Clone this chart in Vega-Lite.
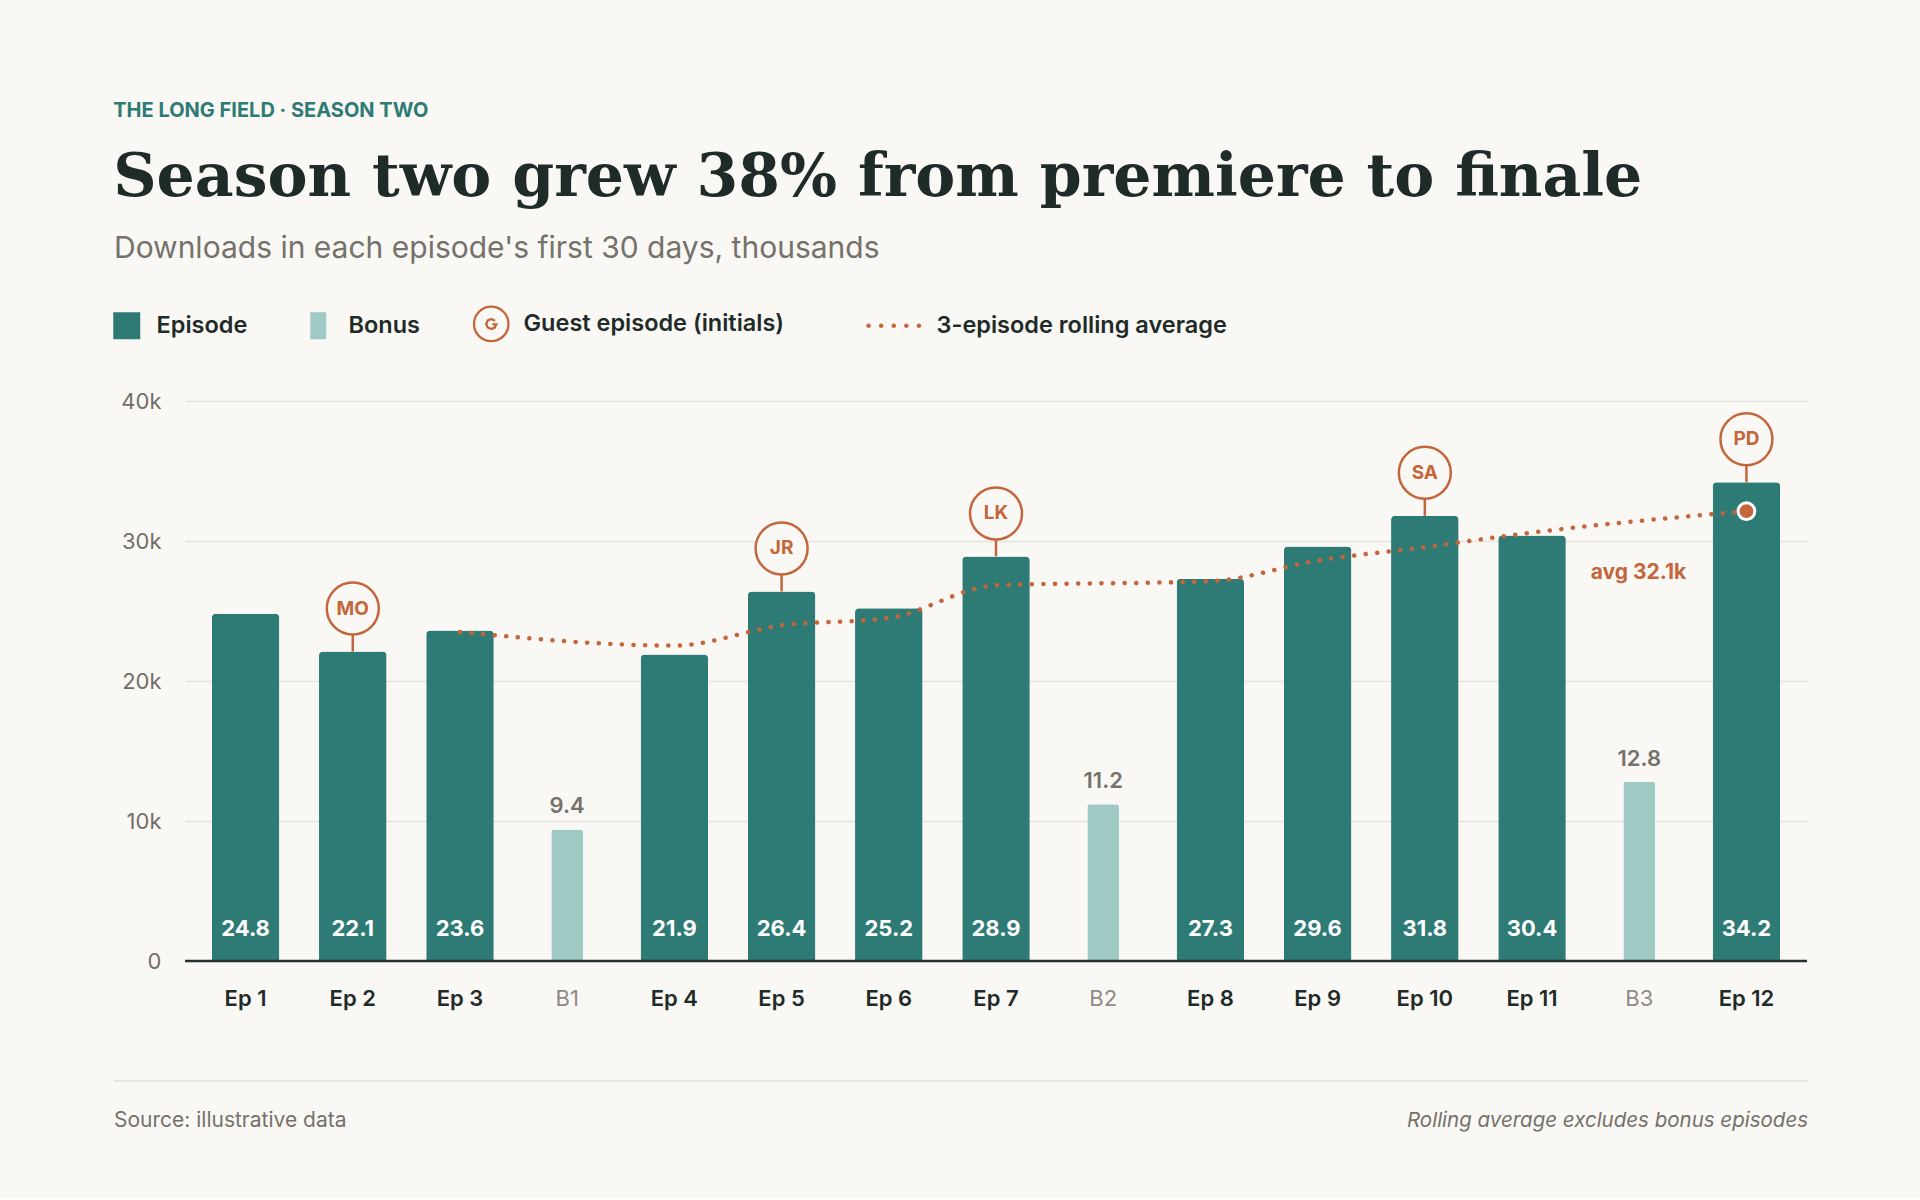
{
  "$schema": "https://vega.github.io/schema/vega-lite/v6.json",
  "background": "#faf8f4",
  "padding": {"left": 113, "top": 101, "right": 113, "bottom": 37},
  "config": {
    "view": {"stroke": null},
    "font": "Inter"
  },
  "title": {
    "text": "THE LONG FIELD · SEASON TWO",
    "subtitle": "Season two grew 38% from premiere to finale",
    "anchor": "start",
    "frame": "bounds",
    "font": "Inter",
    "fontSize": 20,
    "fontWeight": "bold",
    "color": "#2e7b76",
    "subtitleFont": "DejaVu Serif",
    "subtitleFontSize": 60,
    "subtitleFontWeight": "bold",
    "subtitleColor": "#1f2b29",
    "subtitlePadding": 28,
    "offset": 26
  },
  "spacing": 71,
  "vconcat": [
    {
      "width": 1622,
      "height": 560,
      "title": {
        "text": "Downloads in each episode's first 30 days, thousands",
        "anchor": "start",
        "frame": "group",
        "dx": -71,
        "font": "Inter",
        "fontSize": 30,
        "fontWeight": "normal",
        "color": "#75716b",
        "offset": 126
      },
      "data": {
        "values": [
          {"ep": "Ep 1", "type": "Episode", "v": 24.8},
          {"ep": "Ep 2", "type": "Episode", "v": 22.1, "guest": "MO"},
          {"ep": "Ep 3", "type": "Episode", "v": 23.6, "avg": 23.5},
          {"ep": "B1", "type": "Bonus", "v": 9.4},
          {"ep": "Ep 4", "type": "Episode", "v": 21.9, "avg": 22.53},
          {"ep": "Ep 5", "type": "Episode", "v": 26.4, "guest": "JR", "avg": 23.97},
          {"ep": "Ep 6", "type": "Episode", "v": 25.2, "avg": 24.5},
          {"ep": "Ep 7", "type": "Episode", "v": 28.9, "guest": "LK", "avg": 26.83},
          {"ep": "B2", "type": "Bonus", "v": 11.2},
          {"ep": "Ep 8", "type": "Episode", "v": 27.3, "avg": 27.13},
          {"ep": "Ep 9", "type": "Episode", "v": 29.6, "avg": 28.6},
          {"ep": "Ep 10", "type": "Episode", "v": 31.8, "guest": "SA", "avg": 29.57},
          {"ep": "Ep 11", "type": "Episode", "v": 30.4, "avg": 30.6},
          {"ep": "B3", "type": "Bonus", "v": 12.8},
          {"ep": "Ep 12", "type": "Episode", "v": 34.2, "guest": "PD", "avg": 32.13, "note": "avg 32.1k"}
        ]
      },
      "layer": [
        {
          "transform": [{"filter": "datum.type === 'Episode'"}],
          "mark": {"type": "bar", "cornerRadiusTopLeft": 4, "cornerRadiusTopRight": 4},
          "encoding": {
            "x": {
              "field": "ep", "type": "nominal",
              "scale": {"domain": ["Ep 1","Ep 2","Ep 3","B1","Ep 4","Ep 5","Ep 6","Ep 7","B2","Ep 8","Ep 9","Ep 10","Ep 11","B3","Ep 12"], "paddingInner": 0.37, "paddingOuter": 0.25},
              "axis": {
                "title": null, "domain": false, "ticks": false, "labelAngle": 0,
                "labelPadding": 27, "labelFont": "Inter", "labelFontSize": 22,
                "labelColor": {"condition": {"test": "indexof(datum.value, 'B') === 0", "value": "#8f8a84"}, "value": "#1f2b29"},
                "labelFontWeight": {"condition": {"test": "indexof(datum.value, 'B') === 0", "value": "normal"}, "value": 600}
              }
            },
            "y": {
              "field": "v", "type": "quantitative",
              "scale": {"domain": [0, 40], "nice": false},
              "axis": {
                "title": null, "values": [0, 10, 20, 30, 40],
                "labelExpr": "datum.value === 0 ? '0' : datum.value + 'k'",
                "domain": false, "ticks": false, "grid": true,
                "gridColor": "#e6e3dd", "gridWidth": 1.5,
                "labelFont": "Inter", "labelFontSize": 22, "labelColor": "#726e68", "labelPadding": 24
              }
            },
            "color": {
              "field": "type", "type": "nominal",
              "scale": {
                "domain": ["Episode", "Bonus", "Guest episode (initials)", "3-episode rolling average"],
                "range": ["#2e7b76", "#9ec9c5", "#faf8f4", "#c4663b"]
              },
              "legend": {
                "orient": "none", "legendX": -59.5, "legendY": -89,
                "direction": "horizontal", "title": null,
                "symbolSize": 1369, "symbolStrokeWidth": 2.5,
                "labelFont": "Inter", "labelFontSize": 23.5, "labelFontWeight": 600, "labelColor": "#1f2b29",
                "labelOffset": 7.5, "columnPadding": 38, "labelLimit": 0,
                "encode": {
                  "symbols": {
                    "update": {
                      "shape": {"signal": "datum.value === 'Episode' ? 'M-1.297,-0.73H0.162V0.73H-1.297ZM-0.5,-0.995L-0.5,-0.995M-0.5,0.995L-0.5,0.995' : datum.value === 'Bonus' ? 'M-1.027,-0.73H-0.162V0.73H-1.027ZM-2.35,-0.995L-2.35,-0.995M-2.35,0.995L-2.35,0.995' : datum.value === 'Guest episode (initials)' ? 'M-1.635,0C-1.635,-0.515,-1.218,-0.932,-0.703,-0.932C-0.188,-0.932,0.229,-0.515,0.229,0C0.229,0.515,-0.188,0.932,-0.703,0.932C-1.218,0.932,-1.635,0.515,-1.635,0ZM-0.496,-0.174L-0.703,-0.27L-0.894,-0.191L-0.973,0L-0.894,0.191L-0.703,0.27L-0.512,0.191L-0.433,0.02L-0.647,0.02M-2.18,0L-2.18,0' : 'M-2.756,0C-2.756,-0.0685,-2.7005,-0.124,-2.632,-0.124C-2.5635,-0.124,-2.508,-0.0685,-2.508,0C-2.508,0.0685,-2.5635,0.124,-2.632,0.124C-2.7005,0.124,-2.756,0.0685,-2.756,0ZM-2.075,0C-2.075,-0.0685,-2.0195,-0.124,-1.951,-0.124C-1.8825,-0.124,-1.827,-0.0685,-1.827,0C-1.827,0.0685,-1.8825,0.124,-1.951,0.124C-2.0195,0.124,-2.075,0.0685,-2.075,0ZM-1.394,0C-1.394,-0.0685,-1.3385,-0.124,-1.27,-0.124C-1.2015,-0.124,-1.146,-0.0685,-1.146,0C-1.146,0.0685,-1.2015,0.124,-1.27,0.124C-1.3385,0.124,-1.394,0.0685,-1.394,0ZM-0.713,0C-0.713,-0.0685,-0.6575,-0.124,-0.589,-0.124C-0.5205,-0.124,-0.465,-0.0685,-0.465,0C-0.465,0.0685,-0.5205,0.124,-0.589,0.124C-0.6575,0.124,-0.713,0.0685,-0.713,0ZM-0.032,0C-0.032,-0.0685,0.0235,-0.124,0.092,-0.124C0.1605,-0.124,0.216,-0.0685,0.216,0C0.216,0.0685,0.1605,0.124,0.092,0.124C0.0235,0.124,-0.032,0.0685,-0.032,0ZM-5.08,-0.995L-5.08,-0.995M-5.08,0.995L-5.08,0.995'"},
                      "fill": {"signal": "datum.value === 'Episode' ? '#2e7b76' : datum.value === 'Bonus' ? '#9ec9c5' : datum.value === 'Guest episode (initials)' ? '#faf8f4' : '#c4663b'"},
                      "stroke": {"signal": "datum.value === 'Guest episode (initials)' ? '#c4663b' : 'transparent'"},
                      "strokeWidth": {"signal": "datum.value === 'Guest episode (initials)' ? 2.3 : 0"},
                      "opacity": {"value": 1}
                    }
                  }
                }
              }
            }
          }
        },
        {
          "transform": [{"filter": "datum.type === 'Bonus'"}],
          "mark": {"type": "bar", "width": {"band": 0.47}, "cornerRadiusTopLeft": 3, "cornerRadiusTopRight": 3, "color": "#9ec9c5"},
          "encoding": {
            "x": {"field": "ep", "type": "nominal"},
            "y": {"field": "v", "type": "quantitative"}
          }
        },
        {
          "data": {"values": [{"base": 0}]},
          "mark": {"type": "rule", "color": "#263230", "strokeWidth": 2.5},
          "encoding": {"y": {"field": "base", "type": "quantitative"}}
        },
        {
          "transform": [{"filter": "datum.type === 'Episode'"}],
          "mark": {"type": "text", "font": "Inter", "fontSize": 22, "fontWeight": "bold", "color": "#ffffff", "baseline": "middle", "dy": -32},
          "encoding": {
            "x": {"field": "ep", "type": "nominal"},
            "y": {"datum": 0, "type": "quantitative"},
            "text": {"field": "v", "type": "quantitative", "format": ".1f"}
          }
        },
        {
          "transform": [{"filter": "datum.type === 'Bonus'"}],
          "mark": {"type": "text", "font": "Inter", "fontSize": 22, "fontWeight": 600, "color": "#75716b", "baseline": "middle", "dy": -23},
          "encoding": {
            "x": {"field": "ep", "type": "nominal"},
            "y": {"field": "v", "type": "quantitative"},
            "text": {"field": "v", "type": "quantitative", "format": ".1f"}
          }
        },
        {
          "transform": [{"filter": "isValid(datum.avg)"}],
          "mark": {"type": "line", "interpolate": "monotone", "color": "#c4663b", "strokeWidth": 4.5, "strokeDash": [0.1, 11.5], "strokeCap": "round"},
          "encoding": {
            "x": {"field": "ep", "type": "nominal"},
            "y": {"field": "avg", "type": "quantitative"}
          }
        },
        {
          "transform": [{"filter": "isValid(datum.guest)"}],
          "mark": {"type": "rule", "color": "#c4663b", "strokeWidth": 2.5, "y2Offset": -43},
          "encoding": {
            "x": {"field": "ep", "type": "nominal"},
            "y": {"field": "v", "type": "quantitative"},
            "y2": {"field": "v"}
          }
        },
        {
          "transform": [{"filter": "isValid(datum.guest)"}],
          "mark": {"type": "point", "shape": "circle", "size": 2704, "filled": true, "fill": "#faf8f4", "stroke": "#c4663b", "strokeWidth": 2.5, "opacity": 1, "yOffset": -43},
          "encoding": {
            "x": {"field": "ep", "type": "nominal"},
            "y": {"field": "v", "type": "quantitative"}
          }
        },
        {
          "transform": [{"filter": "isValid(datum.guest)"}],
          "mark": {"type": "text", "font": "Inter", "fontSize": 19, "fontWeight": "bold", "color": "#c4663b", "baseline": "middle", "dy": -43},
          "encoding": {
            "x": {"field": "ep", "type": "nominal"},
            "y": {"field": "v", "type": "quantitative"},
            "text": {"field": "guest"}
          }
        },
        {
          "transform": [{"filter": "isValid(datum.note)"}],
          "mark": {"type": "point", "shape": "circle", "size": 280, "filled": true, "fill": "#c4663b", "stroke": "#ffffff", "strokeWidth": 3, "opacity": 1},
          "encoding": {
            "x": {"field": "ep", "type": "nominal"},
            "y": {"field": "avg", "type": "quantitative"}
          }
        },
        {
          "transform": [{"filter": "isValid(datum.note)"}],
          "mark": {"type": "text", "font": "Inter", "fontSize": 21, "fontWeight": "bold", "color": "#c4663b", "baseline": "middle", "align": "center", "dx": -108, "dy": 62},
          "encoding": {
            "x": {"field": "ep", "type": "nominal"},
            "y": {"field": "avg", "type": "quantitative"},
            "text": {"field": "note"}
          }
        }
      ]
    },
    {
      "width": 1622,
      "height": 80,
      "data": {"values": [{"src": "Source: illustrative data", "remark": "Rolling average excludes bonus episodes"}]},
      "layer": [
        {
          "mark": {"type": "rule", "color": "#e4e0d9", "strokeWidth": 1.5},
          "encoding": {
            "x": {"datum": -0.04377, "type": "quantitative", "scale": {"domain": [0, 1]}, "axis": null},
            "x2": {"datum": 1.00062},
            "y": {"datum": 1, "type": "quantitative", "scale": {"domain": [0, 1]}, "axis": null}
          }
        },
        {
          "mark": {"type": "text", "align": "left", "baseline": "middle", "font": "Inter", "fontSize": 21, "color": "#75716b"},
          "encoding": {
            "x": {"datum": -0.04377, "type": "quantitative"},
            "y": {"datum": 0.5, "type": "quantitative"},
            "text": {"field": "src"}
          }
        },
        {
          "mark": {"type": "text", "align": "right", "baseline": "middle", "font": "Inter", "fontSize": 20.5, "fontStyle": "italic", "color": "#75716b"},
          "encoding": {
            "x": {"datum": 1.00062, "type": "quantitative"},
            "y": {"datum": 0.5, "type": "quantitative"},
            "text": {"field": "remark"}
          }
        }
      ]
    }
  ]
}
